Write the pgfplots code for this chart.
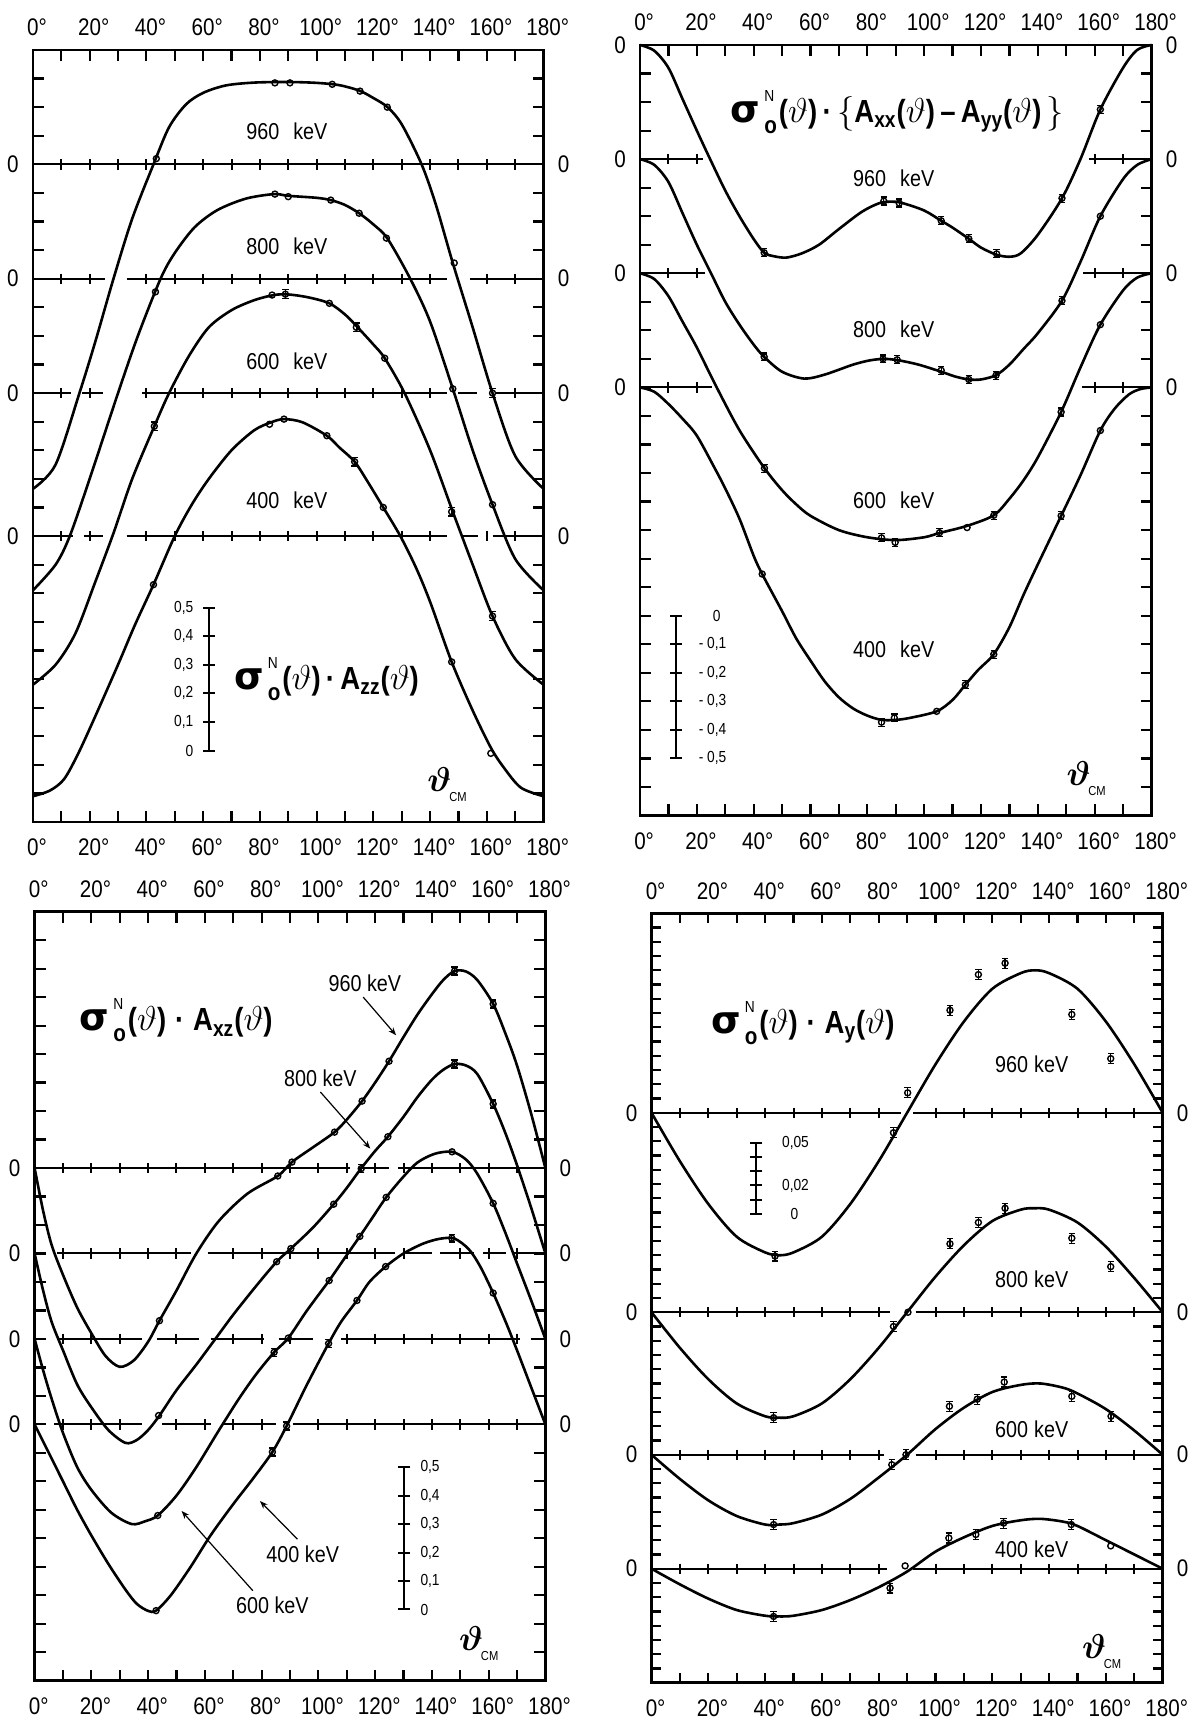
\documentclass[border=0pt]{standalone}
\usepackage{fontspec}
\setmainfont{Liberation Sans}[FakeStretch=0.86]
\newfontfamily\gr{DejaVu Sans}
\usepackage{pgfplots}
\pgfplotsset{compat=1.18}
\usetikzlibrary{arrows.meta}

\newcommand{\Thv}{$\vartheta$}
\newcommand{\SIG}{{\gr\bfseries\fontsize{19}{19}\selectfont σ}\kern2pt\rlap{\raisebox{10.5pt}{\fontsize{8}{8}\selectfont\mdseries N}}\raisebox{-5.5pt}{\fontsize{12}{12}\selectfont\bfseries o}\kern1pt}
\newcommand{\thcm}{{\fontsize{19}{19}\selectfont\boldmath$\vartheta$}\kern-1pt\raisebox{-5pt}{\fontsize{6.5}{6.5}\selectfont CM}}

\pgfplotsset{
  panel/.style={
    scale only axis, clip=false,
    xmin=0, xmax=180,
    axis line style={line width=1.3pt},
    xtick={0,10,...,180}, xticklabels={}, yticklabels={},
    tick align=inside, xtick pos=both, ytick pos=both,
    major tick length=5.5pt,
    tick style={line width=1.1pt, black},
  },
  curve/.style={black, line width=1.3pt, smooth, tension=0.5, no markers},
  zl/.style={black, line width=1pt, no markers, unbounded coords=jump},
  zx/.style={black, only marks, mark=|, mark size=2.6pt, mark options={line width=1pt}},
  pts/.style={black, only marks, mark=o, mark size=1.5pt, mark options={fill=white, line width=0.7pt}},
  ept/.style={pts, error bars/.cd, y dir=both, y explicit,
     error bar style={line width=0.6pt},
     error mark options={rotate=90, mark size=1.6pt, line width=0.6pt}},
  sbar/.style={black, line width=1pt, no markers},
  sbt/.style={black, only marks, mark=-, mark size=3pt, mark options={line width=1pt}},
}
\tikzset{
  zfont/.style={font=\fontsize{12}{12}\selectfont},
  elab/.style={font=\fontsize{11.5}{12}\selectfont},
  slab/.style={font=\fontsize{8}{8}\selectfont},
  ttl/.style={font=\fontsize{16}{16}\selectfont\bfseries},
}
\newcommand{\xlabs}[2]{%
  \pgfplotsinvokeforeach{0,20,40,60,80,100,120,140,160,180}{%
    \node[font=\fontsize{12}{12}\selectfont, anchor=base, yshift=7pt] at (axis cs:##1,#2) {##1\rlap{°}};
    \node[font=\fontsize{12}{12}\selectfont, anchor=base, yshift=-17pt] at (axis cs:##1,#1) {##1\rlap{°}};
  }}
\newcommand{\zlabs}[1]{%
  \pgfplotsinvokeforeach{#1}{%
    \node[zfont, xshift=-10pt] at (axis cs:0,##1) {0};
    \node[zfont, xshift=10pt] at (axis cs:180,##1) {0};
  }}

\begin{document}
\begin{tikzpicture}
\path[use as bounding box] (0,0) rectangle (597.5pt,860.5pt);

%================ TOP LEFT: A_zz =================
\begin{axis}[panel, at={(16.45pt,449.5pt)}, anchor=south west,
  width=255.35pt, height=386pt, ymin=-1.0, ymax=1.7,
  ytick={-1,-0.9,...,1.71}]
\xlabs{-1.0}{1.7}
\zlabs{1.3,0.9,0.5,0}
\addplot[zl] coordinates {(0,1.3)(180,1.3)};
\addplot[zx] coordinates {(10,1.3)(20,1.3)(30,1.3)(40,1.3)(50,1.3)(60,1.3)(70,1.3)(80,1.3)(90,1.3)(100,1.3)(110,1.3)(120,1.3)(130,1.3)(140,1.3)(150,1.3)(160,1.3)(170,1.3)};
\addplot[zl] coordinates {(0,0.9)(25.5,0.9)(25.5,nan)(33,0.9)(146,0.9)(146,nan)(154,0.9)(180,0.9)};
\addplot[zx] coordinates {(10,0.9)(20,0.9)(40,0.9)(50,0.9)(60,0.9)(70,0.9)(80,0.9)(90,0.9)(100,0.9)(110,0.9)(120,0.9)(130,0.9)(140,0.9)(160,0.9)(170,0.9)};
\addplot[zl] coordinates {(0,0.5)(13.5,0.5)(13.5,nan)(17.3,0.5)(24.8,0.5)(24.8,nan)(38.6,0.5)(146,0.5)(146,nan)(150,0.5)(156.6,0.5)(156.6,nan)(162.8,0.5)(180,0.5)};
\addplot[zx] coordinates {(10,0.5)(20,0.5)(40,0.5)(50,0.5)(60,0.5)(70,0.5)(80,0.5)(90,0.5)(100,0.5)(110,0.5)(120,0.5)(130,0.5)(140,0.5)(170,0.5)};
\addplot[zl] coordinates {(0,0)(14,0)(14,nan)(17.9,0)(24.8,0)(24.8,nan)(33,0)(146,0)(146,nan)(151.5,0)(157,0)(157,nan)(162,0)(180,0)};
\addplot[zx] coordinates {(10,0)(20,0)(40,0)(50,0)(60,0)(70,0)(80,0)(90,0)(100,0)(110,0)(120,0)(130,0)(140,0)(160,0)(170,0)};
\addplot[curve] coordinates {(0,0.165)(8,0.25)(16.4,0.5)(22,0.68)(28.4,0.9)(35,1.11)(42.5,1.3)(48,1.43)(54,1.51)(60,1.55)(68,1.576)(78,1.586)(90,1.588)(100,1.585)(108,1.577)(115,1.558)(120,1.532)(125,1.5)(130,1.44)(137,1.3)(142,1.16)(148,0.955)(155,0.73)(162,0.5)(170,0.28)(180,0.165)};
\addplot[curve] coordinates {(0,-0.19)(8,-0.1)(13,0)(20,0.2)(30,0.5)(37,0.7)(45,0.9)(50,0.99)(57,1.08)(65,1.14)(75,1.18)(85,1.196)(90,1.19)(100,1.183)(105,1.175)(110,1.158)(115,1.129)(120,1.09)(125,1.04)(133,0.9)(140,0.75)(148,0.515)(155,0.3)(162,0.11)(170,-0.08)(180,-0.19)};
\addplot[curve] coordinates {(0,-0.52)(8,-0.45)(15,-0.34)(22,-0.16)(28.4,0.01)(35,0.2)(42.8,0.384)(48,0.5)(55,0.63)(62,0.73)(70,0.79)(78,0.825)(85,0.843)(90,0.845)(97,0.835)(104.5,0.814)(110,0.775)(114,0.735)(120,0.67)(124,0.622)(131,0.5)(140,0.3)(148,0.085)(155,-0.1)(162,-0.28)(170,-0.43)(180,-0.52)};
\addplot[curve] coordinates {(0,-0.91)(6,-0.89)(11,-0.85)(16,-0.76)(22,-0.63)(30,-0.45)(36,-0.31)(42.5,-0.17)(50,0)(56,0.11)(62,0.2)(70,0.3)(78,0.37)(84,0.398)(88.5,0.409)(95,0.398)(103.6,0.351)(108,0.31)(113.4,0.26)(118,0.19)(123.5,0.1)(129.5,0)(135,-0.11)(140,-0.23)(147.6,-0.44)(155,-0.61)(161.4,-0.74)(166,-0.81)(172,-0.88)(180,-0.91)};
\addplot[pts] coordinates {(43.5,1.32)(85.3,1.585)(90.6,1.585)(105.5,1.58)(115.3,1.556)(124.9,1.5)(148.5,0.955)};
\addplot[ept] coordinates {(162,0.5) +- (0,0.015)};
\addplot[pts] coordinates {(43.2,0.854)(85.3,1.196)(90,1.187)(105,1.175)(115,1.129)(124.6,1.042)(148,0.515)(162,0.11)};
\addplot[ept] coordinates {(42.8,0.384) +- (0,0.015) (89,0.846) +- (0,0.015) (114,0.73) +- (0,0.015) (147.6,0.085) +- (0,0.015) (162,-0.28) +- (0,0.015)};
\addplot[pts] coordinates {(84.3,0.843)(104.5,0.814)(124,0.622)};
\addplot[pts] coordinates {(42.5,-0.17)(83.4,0.391)(88.5,0.409)(103.6,0.351)(123.5,0.1)(147.6,-0.44)(161.4,-0.76)};
\addplot[ept] coordinates {(113.4,0.26) +- (0,0.015)};
\node[elab] at (axis cs:89.5,1.415) {960\hspace{7pt}keV};
\node[elab] at (axis cs:89.5,1.015) {800\hspace{7pt}keV};
\node[elab] at (axis cs:89.5,0.613) {600\hspace{7pt}keV};
\node[elab] at (axis cs:89.5,0.125) {400\hspace{7pt}keV};
\node[ttl] at (axis cs:103.5,-0.50) {\SIG(\Thv)\,·\,A\textsubscript{zz}(\Thv)};
\addplot[sbar] coordinates {(62,-0.75)(62,-0.25)};
\addplot[sbt] coordinates {(62,-0.75)(62,-0.65)(62,-0.55)(62,-0.45)(62,-0.35)(62,-0.25)};
\node[slab, anchor=east] at (axis cs:59,-0.75) {0};
\node[slab, anchor=east] at (axis cs:59,-0.65) {0,1};
\node[slab, anchor=east] at (axis cs:59,-0.55) {0,2};
\node[slab, anchor=east] at (axis cs:59,-0.45) {0,3};
\node[slab, anchor=east] at (axis cs:59,-0.35) {0,4};
\node[slab, anchor=east] at (axis cs:59,-0.25) {0,5};
\node at (axis cs:146,-0.87) {\thcm};
\end{axis}

%================ TOP RIGHT =================
\begin{axis}[panel, at={(320pt,452.75pt)}, anchor=south west,
  width=255.75pt, height=385.25pt, ymin=-1.5, ymax=1.2,
  ytick={-1.5,-1.4,...,1.21}]
\xlabs{-1.5}{1.2}
\zlabs{1.2,0.8,0.4,0}
\addplot[zl] coordinates {(0,0.8)(22,0.8)(22,nan)(158,0.8)(180,0.8)};
\addplot[zx] coordinates {(10,0.8)(20,0.8)(160,0.8)(170,0.8)};
\addplot[zl] coordinates {(0,0.4)(23,0.4)(23,nan)(156,0.4)(180,0.4)};
\addplot[zx] coordinates {(10,0.4)(20,0.4)(160,0.4)(170,0.4)};
\addplot[zl] coordinates {(0,0)(25.5,0)(25.5,nan)(155.5,0)(180,0)};
\addplot[zx] coordinates {(10,0)(20,0)(160,0)(170,0)};
\addplot[curve] coordinates {(0,1.2)(5,1.18)(10,1.12)(15,1.01)(20,0.9)(24.2,0.81)(30,0.69)(35,0.6)(40,0.52)(43.7,0.472)(47,0.46)(51.5,0.455)(57,0.47)(63,0.5)(70,0.555)(78,0.615)(84,0.645)(88,0.651)(92,0.647)(100,0.62)(106,0.584)(110,0.56)(115.7,0.521)(120,0.49)(125.5,0.465)(130,0.458)(134,0.47)(140,0.535)(148.5,0.663)(155,0.8)(162,0.974)(170,1.12)(175,1.183)(180,1.2)};
\addplot[curve] coordinates {(0,0.8)(5,0.78)(10,0.72)(15,0.61)(20,0.5)(25,0.4)(30,0.3)(35,0.22)(40,0.15)(43.7,0.107)(50,0.055)(57.8,0.031)(65,0.045)(75,0.08)(81,0.095)(86,0.1)(91,0.095)(98,0.08)(106,0.055)(111,0.038)(115.7,0.028)(120,0.028)(125.3,0.043)(130,0.08)(135,0.135)(140,0.19)(148.5,0.304)(155,0.44)(162,0.6)(170,0.73)(175,0.78)(180,0.8)};
\addplot[curve] coordinates {(0,0.4)(5,0.38)(10,0.32)(15,0.23)(20,0.14)(27,0)(35,-0.15)(43.8,-0.283)(50,-0.36)(55,-0.41)(60,-0.45)(70,-0.5)(80,-0.525)(90,-0.535)(100,-0.525)(105.4,-0.51)(115.1,-0.485)(124.5,-0.448)(130,-0.39)(135,-0.325)(140,-0.245)(148.2,-0.086)(155,0.07)(162,0.22)(170,0.34)(175,0.385)(180,0.4)};
\addplot[curve] coordinates {(0,0)(5,-0.015)(10,-0.058)(15,-0.11)(20,-0.169)(26.4,-0.285)(30,-0.354)(35,-0.46)(40,-0.59)(43,-0.654)(50,-0.784)(55,-0.88)(60,-0.957)(65,-1.03)(70,-1.086)(75,-1.125)(80,-1.15)(85,-1.165)(90,-1.165)(95,-1.158)(104.4,-1.135)(110,-1.095)(114.5,-1.042)(119,-0.99)(124.5,-0.935)(130,-0.84)(135,-0.726)(140,-0.62)(148.2,-0.45)(155,-0.308)(162,-0.151)(167,-0.075)(172,-0.025)(176,-0.006)(180,0)};
\addplot[ept] coordinates {(43.7,0.472) +- (0,0.014) (85.8,0.653) +- (0,0.014) (91.2,0.646) +- (0,0.014) (106,0.584) +- (0,0.014) (115.7,0.521) +- (0,0.014) (125.5,0.468) +- (0,0.014) (148.5,0.663) +- (0,0.014) (162,0.974) +- (0,0.014)};
\addplot[ept] coordinates {(43.7,0.107) +- (0,0.014) (85.5,0.1) +- (0,0.014) (90.5,0.097) +- (0,0.014) (106,0.06) +- (0,0.014) (115.7,0.028) +- (0,0.014) (125.3,0.043) +- (0,0.014) (148.5,0.304) +- (0,0.014)};
\addplot[pts] coordinates {(162,0.6)};
\addplot[ept] coordinates {(43.8,-0.283) +- (0,0.014) (85,-0.527) +- (0,0.014) (89.8,-0.543) +- (0,0.014) (105.4,-0.509) +- (0,0.014) (124.5,-0.448) +- (0,0.014) (148.2,-0.086) +- (0,0.014)};
\addplot[pts] coordinates {(115.1,-0.491)(162,0.22)};
\addplot[pts] coordinates {(43,-0.654)(104.4,-1.135)(162,-0.151)};
\addplot[ept] coordinates {(85,-1.173) +- (0,0.014) (89.5,-1.158) +- (0,0.014) (114.5,-1.042) +- (0,0.014) (124.5,-0.935) +- (0,0.014) (148.2,-0.45) +- (0,0.014)};
\node[elab] at (axis cs:89.3,0.732) {960\hspace{7pt}keV};
\node[elab] at (axis cs:89.3,0.203) {800\hspace{7pt}keV};
\node[elab] at (axis cs:89.3,-0.395) {600\hspace{7pt}keV};
\node[elab] at (axis cs:89.3,-0.918) {400\hspace{7pt}keV};
\node[ttl] at (axis cs:90.6,0.964) {\SIG(\Thv)\,·\,$\Bigl\{$A\textsubscript{xx}(\Thv)\,–\,A\textsubscript{yy}(\Thv)\,$\Bigr\}$};
\addplot[sbar] coordinates {(12.6,-1.3)(12.6,-0.8)};
\addplot[sbt] coordinates {(12.6,-1.3)(12.6,-1.2)(12.6,-1.1)(12.6,-1.0)(12.6,-0.9)(12.6,-0.8)};
\node[slab, anchor=west] at (axis cs:23.2,-0.8) {0};
\node[slab, anchor=west] at (axis cs:18.2,-0.9) {- 0,1};
\node[slab, anchor=west] at (axis cs:18.2,-1.0) {- 0,2};
\node[slab, anchor=west] at (axis cs:18.2,-1.1) {- 0,3};
\node[slab, anchor=west] at (axis cs:18.2,-1.2) {- 0,4};
\node[slab, anchor=west] at (axis cs:18.2,-1.3) {- 0,5};
\node at (axis cs:157,-1.37) {\thcm};
\end{axis}

%================ BOTTOM LEFT =================
\begin{axis}[panel, at={(17.3pt,20.15pt)}, anchor=south west,
  width=255.4pt, height=384.5pt, ymin=-0.9, ymax=1.8,
  ytick={-0.9,-0.8,...,1.81}]
\xlabs{-0.9}{1.8}
\zlabs{0.9,0.6,0.3,0}
\addplot[zl] coordinates {(0,0.9)(111,0.9)(111,nan)(114,0.9)(125,0.9)(125,nan)(128,0.9)(180,0.9)};
\addplot[zx] coordinates {(10,0.9)(20,0.9)(30,0.9)(40,0.9)(50,0.9)(60,0.9)(70,0.9)(80,0.9)(90,0.9)(100,0.9)(110,0.9)(120,0.9)(130,0.9)(140,0.9)(150,0.9)(160,0.9)(170,0.9)};
\addplot[zl] coordinates {(0,0.6)(3,0.6)(3,nan)(8,0.6)(55,0.6)(55,nan)(61,0.6)(127,0.6)(127,nan)(131,0.6)(140,0.6)(140,nan)(143,0.6)(155,0.6)(155,nan)(158,0.6)(166,0.6)(166,nan)(169,0.6)(180,0.6)};
\addplot[zx] coordinates {(10,0.6)(20,0.6)(30,0.6)(40,0.6)(50,0.6)(70,0.6)(80,0.6)(90,0.6)(100,0.6)(110,0.6)(120,0.6)(130,0.6)(150,0.6)(160,0.6)(170,0.6)};
\addplot[zl] coordinates {(0,0.3)(3,0.3)(3,nan)(8,0.3)(38,0.3)(38,nan)(43,0.3)(58,0.3)(58,nan)(62,0.3)(81,0.3)(81,nan)(86,0.3)(98,0.3)(98,nan)(108,0.3)(171,0.3)(171,nan)(175,0.3)(180,0.3)};
\addplot[zx] coordinates {(10,0.3)(20,0.3)(30,0.3)(50,0.3)(70,0.3)(80,0.3)(90,0.3)(110,0.3)(120,0.3)(130,0.3)(140,0.3)(150,0.3)(160,0.3)(170,0.3)};
\addplot[zl] coordinates {(0,0)(3,0)(3,nan)(7,0)(38,0)(38,nan)(45,0)(62,0)(62,nan)(66,0)(85,0)(85,nan)(91,0)(180,0)};
\addplot[zx] coordinates {(10,0)(20,0)(30,0)(50,0)(60,0)(70,0)(80,0)(100,0)(110,0)(120,0)(130,0)(140,0)(150,0)(160,0)(170,0)};
\addplot[curve] coordinates {(0,0.9)(3,0.75)(6,0.63)(10,0.525)(15,0.41)(20,0.32)(25,0.24)(30,0.202)(35,0.225)(40,0.29)(44,0.364)(50,0.47)(57,0.6)(65,0.715)(75,0.81)(85.7,0.872)(90.7,0.921)(98,0.972)(105.7,1.026)(110,1.07)(115.4,1.135)(120,1.2)(124.9,1.275)(130,1.36)(135,1.44)(140,1.51)(144,1.56)(148,1.592)(152,1.59)(156,1.56)(161.6,1.476)(166,1.37)(170,1.26)(175,1.09)(180,0.9)};
\addplot[curve] coordinates {(0,0.6)(3,0.47)(6,0.36)(10,0.26)(15,0.14)(20,0.06)(26,-0.02)(32,-0.065)(36,-0.055)(40,-0.02)(44,0.031)(50,0.12)(57,0.21)(63.7,0.3)(70,0.385)(78,0.485)(85.3,0.571)(90.3,0.617)(98,0.69)(105.4,0.773)(110,0.83)(115,0.898)(120,0.96)(124.5,1.01)(130,1.08)(135,1.15)(140,1.21)(144,1.245)(148,1.265)(152,1.26)(156,1.23)(161.6,1.125)(166,1.02)(170,0.91)(175,0.76)(180,0.6)};
\addplot[curve] coordinates {(0,0.3)(3,0.19)(6,0.09)(10,-0.03)(15,-0.15)(20,-0.23)(27,-0.31)(34.2,-0.35)(39,-0.34)(43.4,-0.32)(50,-0.25)(57,-0.15)(65,-0.02)(72,0.09)(78,0.175)(84.4,0.253)(89.4,0.303)(96,0.4)(103.8,0.505)(109,0.58)(114.6,0.66)(119,0.725)(123.9,0.797)(130,0.87)(135,0.92)(141,0.95)(147.1,0.957)(152,0.93)(156,0.88)(161.6,0.776)(166,0.67)(170,0.565)(175,0.435)(180,0.3)};
\addplot[curve] coordinates {(0,0)(5,-0.1)(10,-0.2)(15,-0.3)(20,-0.39)(26,-0.49)(32,-0.58)(36,-0.63)(40,-0.655)(42.8,-0.654)(48,-0.6)(55,-0.5)(62,-0.39)(70,-0.28)(77,-0.19)(83.8,-0.097)(88.8,-0.006)(96,0.14)(103.6,0.284)(108,0.36)(113.6,0.435)(118,0.5)(123.7,0.554)(130,0.6)(137,0.635)(143,0.652)(148,0.652)(153,0.615)(157,0.555)(161.6,0.461)(166,0.36)(170,0.26)(175,0.13)(180,0)};
\addplot[pts] coordinates {(44,0.364)(85.7,0.872)(90.7,0.921)(105.7,1.026)(115.4,1.135)(124.9,1.275)};
\addplot[ept] coordinates {(148,1.592) +- (0,0.014) (161.6,1.476) +- (0,0.014)};
\addplot[pts] coordinates {(43.7,0.031)(85.3,0.571)(90.3,0.617)(105.4,0.773)(124.5,1.01)};
\addplot[ept] coordinates {(115.1,0.898) +- (0,0.014) (148,1.265) +- (0,0.014) (161.6,1.125) +- (0,0.014)};
\addplot[pts] coordinates {(43.4,-0.32)(89.4,0.303)(103.8,0.505)(114.6,0.66)(123.9,0.797)(147.1,0.957)(161.6,0.776)};
\addplot[ept] coordinates {(84.4,0.253) +- (0,0.014)};
\addplot[pts] coordinates {(42.8,-0.654)(113.6,0.435)(123.7,0.554)(161.6,0.461)};
\addplot[ept] coordinates {(83.8,-0.097) +- (0,0.014) (88.8,-0.006) +- (0,0.014) (103.6,0.284) +- (0,0.014) (147,0.654) +- (0,0.014)};
\node[elab] at (axis cs:116.4,1.547) {960 keV};
\node[elab] at (axis cs:100.7,1.214) {800 keV};
\node[elab] at (axis cs:83.8,-0.634) {600 keV};
\node[elab] at (axis cs:94.5,-0.455) {400 keV};
\draw[-{Stealth[length=4pt,width=3pt]}, line width=0.6pt] (axis cs:115.8,1.50) -- (axis cs:127.4,1.366);
\draw[-{Stealth[length=4pt,width=3pt]}, line width=0.6pt] (axis cs:100.7,1.167) -- (axis cs:118.3,0.968);
\draw[-{Stealth[length=4pt,width=3pt]}, line width=0.6pt] (axis cs:76.9,-0.584) -- (axis cs:51.8,-0.304);
\draw[-{Stealth[length=4pt,width=3pt]}, line width=0.6pt] (axis cs:92.6,-0.403) -- (axis cs:79.4,-0.269);
\node[ttl] at (axis cs:49.9,1.418) {\SIG(\Thv)\;·\;A\textsubscript{xz}(\Thv)};
\addplot[sbar] coordinates {(130.2,-0.65)(130.2,-0.15)};
\addplot[sbt] coordinates {(130.2,-0.65)(130.2,-0.55)(130.2,-0.45)(130.2,-0.35)(130.2,-0.25)(130.2,-0.15)};
\node[slab, anchor=west] at (axis cs:133.5,-0.65) {0};
\node[slab, anchor=west] at (axis cs:133.5,-0.55) {0,1};
\node[slab, anchor=west] at (axis cs:133.5,-0.45) {0,2};
\node[slab, anchor=west] at (axis cs:133.5,-0.35) {0,3};
\node[slab, anchor=west] at (axis cs:133.5,-0.25) {0,4};
\node[slab, anchor=west] at (axis cs:133.5,-0.15) {0,5};
\node at (axis cs:156.5,-0.77) {\thcm};
\end{axis}

%================ BOTTOM RIGHT =================
\begin{axis}[panel, at={(325.75pt,19.15pt)}, anchor=south west,
  width=255.6pt, height=384.7pt, ymin=-0.08, ymax=0.46,
  ytick={-0.08,-0.07,...,0.461}, major tick length=4.7pt]
\xlabs{-0.08}{0.46}
\zlabs{0.32,0.18,0.08,0}
\addplot[zl] coordinates {(0,0.32)(88,0.32)(88,nan)(92,0.32)(180,0.32)};
\addplot[zx] coordinates {(10,0.32)(20,0.32)(30,0.32)(40,0.32)(50,0.32)(60,0.32)(70,0.32)(80,0.32)(100,0.32)(110,0.32)(120,0.32)(130,0.32)(140,0.32)(150,0.32)(160,0.32)(170,0.32)};
\addplot[zl] coordinates {(0,0.18)(84,0.18)(84,nan)(93,0.18)(180,0.18)};
\addplot[zx] coordinates {(10,0.18)(20,0.18)(30,0.18)(40,0.18)(50,0.18)(60,0.18)(70,0.18)(80,0.18)(100,0.18)(110,0.18)(120,0.18)(130,0.18)(140,0.18)(150,0.18)(160,0.18)(170,0.18)};
\addplot[zl] coordinates {(0,0.08)(82,0.08)(82,nan)(93,0.08)(180,0.08)};
\addplot[zx] coordinates {(10,0.08)(20,0.08)(30,0.08)(40,0.08)(50,0.08)(60,0.08)(70,0.08)(80,0.08)(100,0.08)(110,0.08)(120,0.08)(130,0.08)(140,0.08)(150,0.08)(160,0.08)(170,0.08)};
\addplot[zl] coordinates {(0,0)(83,0)(83,nan)(92,0)(180,0)};
\addplot[zx] coordinates {(10,0)(20,0)(30,0)(40,0)(50,0)(60,0)(70,0)(80,0)(100,0)(110,0)(120,0)(130,0)(140,0)(150,0)(160,0)(170,0)};
\addplot[curve] coordinates {(0,0.32)(10,0.286)(20,0.256)(30,0.233)(40,0.222)(45,0.22)(50,0.222)(60,0.233)(70,0.256)(80,0.286)(90,0.32)(100,0.354)(110,0.384)(120,0.407)(130,0.418)(135,0.42)(140,0.418)(150,0.407)(160,0.384)(170,0.354)(180,0.32)};
\addplot[curve] coordinates {(0,0.18)(10,0.155)(20,0.133)(30,0.116)(40,0.107)(45,0.106)(50,0.107)(60,0.116)(70,0.133)(80,0.155)(90,0.18)(100,0.205)(110,0.227)(120,0.244)(130,0.252)(135,0.253)(140,0.252)(150,0.243)(160,0.226)(170,0.204)(180,0.18)};
\addplot[curve] coordinates {(0,0.08)(10,0.063)(20,0.048)(30,0.037)(40,0.031)(45,0.031)(50,0.032)(60,0.038)(70,0.049)(80,0.064)(90,0.08)(100,0.098)(110,0.113)(120,0.124)(130,0.129)(137,0.13)(145,0.127)(150,0.123)(160,0.112)(170,0.097)(180,0.08)};
\addplot[curve] coordinates {(0,0)(10,-0.011)(20,-0.021)(30,-0.029)(40,-0.033)(45,-0.0335)(50,-0.033)(60,-0.029)(70,-0.022)(80,-0.013)(90,-0.002)(100,0.012)(110,0.022)(120,0.03)(130,0.034)(137,0.035)(145,0.033)(150,0.03)(160,0.02)(170,0.01)(180,0)};
\addplot[ept] coordinates {(43.5,0.2194) +- (0,0.0035) (85.2,0.306) +- (0,0.0035) (90.2,0.334) +- (0,0.0035) (105.1,0.392) +- (0,0.0035) (115.1,0.417) +- (0,0.0035) (124.5,0.425) +- (0,0.0035) (148,0.389) +- (0,0.0035) (161.7,0.358) +- (0,0.0035)};
\addplot[ept] coordinates {(43,0.106) +- (0,0.0035) (85.2,0.17) +- (0,0.0035) (105.1,0.228) +- (0,0.0035) (115.1,0.243) +- (0,0.0035) (124.5,0.253) +- (0,0.0035) (148,0.232) +- (0,0.0035) (161.7,0.212) +- (0,0.0035)};
\addplot[pts] coordinates {(90.3,0.18)};
\addplot[ept] coordinates {(43,0.031) +- (0,0.0035) (84.6,0.073) +- (0,0.0035) (89.6,0.08) +- (0,0.0035) (104.9,0.114) +- (0,0.0035) (114.7,0.119) +- (0,0.0035) (124.2,0.131) +- (0,0.0035) (148,0.121) +- (0,0.0035) (161.8,0.107) +- (0,0.0035)};
\addplot[ept] coordinates {(43,-0.0335) +- (0,0.0035) (84,-0.0136) +- (0,0.0035) (104.7,0.0215) +- (0,0.0035) (114.2,0.024) +- (0,0.0035) (124,0.032) +- (0,0.0035) (147.8,0.031) +- (0,0.0035)};
\addplot[pts] coordinates {(89.3,0.002)(161.7,0.016)};
\node[elab] at (axis cs:133.9,0.354) {960\hspace{3pt}keV};
\node[elab] at (axis cs:133.9,0.203) {800\hspace{3pt}keV};
\node[elab] at (axis cs:133.9,0.098) {600\hspace{3pt}keV};
\node[elab] at (axis cs:133.9,0.0133) {400\hspace{3pt}keV};
\node[ttl] at (axis cs:53.3,0.383) {\SIG(\Thv)\;·\;A\textsubscript{y}(\Thv)};
\addplot[sbar] coordinates {(36.8,0.249)(36.8,0.299)};
\addplot[sbt] coordinates {(36.8,0.249)(36.8,0.259)(36.8,0.269)(36.8,0.279)(36.8,0.289)(36.8,0.299)};
\node[slab, anchor=west] at (axis cs:46.5,0.249) {0};
\node[slab, anchor=west] at (axis cs:43.5,0.269) {0,02};
\node[slab, anchor=west] at (axis cs:43.5,0.299) {0,05};
\node at (axis cs:158.5,-0.058) {\thcm};
\end{axis}
\end{tikzpicture}
\end{document}
